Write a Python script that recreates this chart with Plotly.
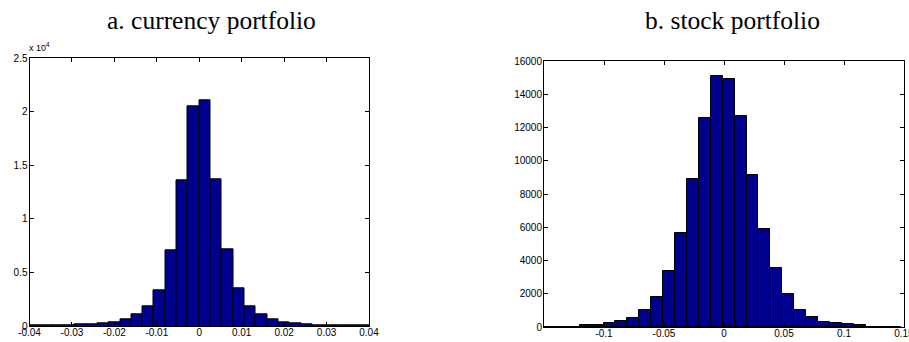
import plotly.graph_objects as go

# ---- data: a. currency portfolio (30 bins over [-0.04, 0.04]) ----
cur_centers = [-0.038667, -0.036, -0.033333, -0.030667, -0.028, -0.025333, -0.022667, -0.02,
               -0.017333, -0.014667, -0.012, -0.009333, -0.006667, -0.004, -0.001333,
               0.001333, 0.004, 0.006667, 0.009333, 0.012, 0.014667, 0.017333, 0.02,
               0.022667, 0.025333, 0.028, 0.030667, 0.033333, 0.036, 0.038667]
cur_counts = [30, 40, 50, 100, 120, 190, 280, 370, 620, 1060, 1870, 3330, 7100, 13650, 20500,
              21050, 13700, 7200, 3550, 1850, 1050, 620, 370, 250, 155, 100, 80, 70, 40, 30]
cur_width = 0.0026667
cur_xticks = [-0.04, -0.03, -0.02, -0.01, 0, 0.01, 0.02, 0.03, 0.04]
cur_xtext = ["-0.04", "-0.03", "-0.02", "-0.01", "0", "0.01", "0.02", "0.03", "0.04"]
cur_yticks = [0, 5000, 10000, 15000, 20000, 25000]
cur_ytext = ["0", "0.5", "1", "1.5", "2", "2.5"]

# ---- data: b. stock portfolio (30 bins over about [-0.15, 0.148]) ----
stk_centers = [-0.14504, -0.13511, -0.12518, -0.11525, -0.10532, -0.09539, -0.08546, -0.07553,
               -0.0656, -0.05567, -0.04574, -0.03581, -0.02588, -0.01595, -0.00602,
               0.00391, 0.01384, 0.02377, 0.0337, 0.04363, 0.05356, 0.06349, 0.07342,
               0.08335, 0.09328, 0.10321, 0.11314, 0.12307, 0.133, 0.14293]
stk_counts = [5, 5, 10, 100, 120, 220, 340, 560, 1000, 1800, 3350, 5650, 8900, 12550, 15100,
              14900, 12700, 9150, 5900, 3550, 2000, 1050, 600, 300, 240, 160, 100, 20, 10, 5]
stk_width = 0.00993
stk_xticks = [-0.1, -0.05, 0, 0.05, 0.1, 0.1499]
stk_xtext = ["-0.1", "-0.05", "0", "0.05", "0.1", "0.15"]
stk_yticks = [0, 2000, 4000, 6000, 8000, 10000, 12000, 14000, 16000]
stk_ytext = ["0", "2000", "4000", "6000", "8000", "10000", "12000", "14000", "16000"]

titles = ["a. currency portfolio", "b. stock portfolio"]

W, H = 909, 342
BAR = "rgb(0,0,143)"

fig = go.Figure()
fig.add_trace(go.Bar(x=cur_centers, y=cur_counts, width=cur_width,
                     marker=dict(color=BAR, line=dict(color="black", width=1)),
                     xaxis="x", yaxis="y", showlegend=False))
fig.add_trace(go.Bar(x=stk_centers, y=stk_counts, width=stk_width,
                     marker=dict(color=BAR, line=dict(color="black", width=1)),
                     xaxis="x2", yaxis="y2", showlegend=False))

tickfont = dict(family="Liberation Sans, Arial", size=10, color="black")
axcommon = dict(showline=True, linecolor="black", linewidth=1, mirror="ticks",
                ticks="inside", ticklen=4, tickcolor="black", showgrid=False,
                zeroline=False, tickfont=tickfont, fixedrange=True, automargin=False)

fig.update_layout(
    width=W, height=H,
    margin=dict(l=0, r=0, t=0, b=0, autoexpand=False),
    paper_bgcolor="white", plot_bgcolor="white",
    bargap=0,
    xaxis=dict(domain=[29.5 / W, 369 / W], range=[-0.04, 0.04], anchor="y",
               tickvals=cur_xticks, ticktext=cur_xtext, ticklabelstandoff=-3, **axcommon),
    yaxis=dict(domain=[1 - 326 / H, 1 - 58.3 / H], range=[0, 25000], anchor="x",
               tickvals=cur_yticks, ticktext=cur_ytext, ticklabelstandoff=-1, **axcommon),
    xaxis2=dict(domain=[544 / W, 904 / W], range=[-0.15, 0.15], anchor="y2",
                tickvals=stk_xticks, ticktext=stk_xtext, ticklabelstandoff=-3,
                ticklabeloverflow="allow", **axcommon),
    yaxis2=dict(domain=[1 - 327 / H, 1 - 61 / H], range=[0, 16000], anchor="x2",
                tickvals=stk_yticks, ticktext=stk_ytext, ticklabelstandoff=-1, **axcommon),
    annotations=[
        dict(text=titles[0], x=211 / W, y=1 - 21 / H, xref="paper", yref="paper",
             xanchor="center", yanchor="middle", showarrow=False,
             font=dict(family="Liberation Serif, Times New Roman", size=25.5, color="black")),
        dict(text=titles[1], x=732 / W, y=1 - 21 / H, xref="paper", yref="paper",
             xanchor="center", yanchor="middle", showarrow=False,
             font=dict(family="Liberation Serif, Times New Roman", size=25.5, color="black")),
        dict(text="x 10<sup>4</sup>", x=27 / W, y=1 - 55 / H, xref="paper", yref="paper",
             xanchor="left", yanchor="bottom", showarrow=False,
             font=dict(family="Liberation Sans, Arial", size=9, color="black")),
    ],
)

fig.write_html("out.html", config={"displayModeBar": False},
               post_script="document.body.style.margin='0px';document.body.style.overflow='hidden';")
